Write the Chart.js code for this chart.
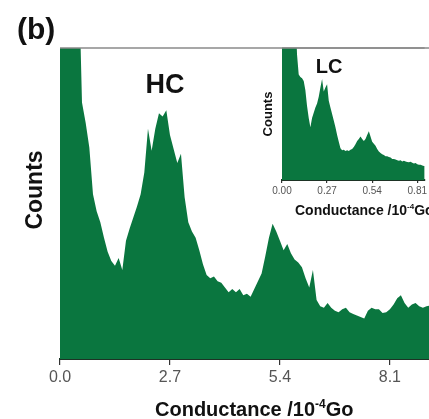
<!DOCTYPE html>
<html>
<head>
<meta charset="utf-8">
<script src="https://cdn.jsdelivr.net/npm/chart.js@4.4.1/dist/chart.umd.min.js"></script>
<style>
  html, body { margin: 0; padding: 0; background: #fff; }
  #wrap { position: relative; width: 429px; height: 419px; overflow: hidden; }
  #mainChart { position: absolute; left: 0; top: 0; }
  #insetChart { position: absolute; left: 255px; top: 40px; }
</style>
</head>
<body>
<div id="wrap">
  <canvas id="mainChart" width="429" height="419"></canvas>
  <canvas id="insetChart" width="174" height="190"></canvas>
</div>
<script>
// histogram bins (conductance in 10^-4 Go), counts in arbitrary units
const mainBinWidth = 0.09;
const mainCounts = [
  130, 130, 130, 130, 130, 130, 82.5, 76, 68, 53,
  47.5, 44, 39, 34.5, 31.5, 30, 32.5, 28.6, 38, 42,
  45.5, 49, 53, 60, 74, 67, 74, 79, 78, 80,
  72, 67.5, 63, 66, 52, 44, 41, 39, 35, 30.5,
  27, 26, 26.5, 25, 24.5, 23, 21.5, 22.5, 21.5, 22.5,
  20.5, 21, 20, 22.5, 25, 27.5, 33, 39, 43.5, 41,
  38, 35, 37, 34, 32, 31, 29.5, 26, 23, 28.6,
  19, 17, 16.5, 18, 16.5, 15.5, 15, 16, 16.5, 15,
  14.5, 14, 13.5, 13, 15.5, 16.5, 16, 16, 14.8, 15,
  16, 17.5, 19.5, 20.5, 18, 16.5, 17.5, 18, 17, 16.5,
  17, 17.2
];
const mainTicks = [0, 2.7, 5.4, 8.1];

// low conductance region (inset)
const insetBinWidth = 0.01;
const insetCounts = [
  130, 130, 130, 130, 130, 130, 130, 130, 130, 95,
  80, 78, 77, 75, 68, 56, 47, 40, 47, 51,
  55, 58, 63, 70, 76.5, 67, 70, 72.5, 60, 55,
  50, 45, 40, 34, 29, 24, 22.5, 23, 22, 22.5,
  22, 23, 23.5, 25, 27, 29.5, 31, 33, 31, 29.5,
  31, 34, 37, 33, 29, 27.5, 26, 23.5, 21.5, 20.5,
  19.5, 19, 18, 18, 17.4, 17, 16, 16, 15.5, 15,
  14.6, 15, 14, 14.5, 14, 13.6, 13.5, 13.8, 13, 12.5,
  12.8, 12, 11.5, 11.5, 11, 10.6, 10.5
];
const insetTicks = [0, 0.27, 0.54, 0.81];

const green = '#0a763f';
const fontFamily = '"Liberation Sans", Arial, sans-serif';

function toPoints(counts, width) {
  return counts.map((c, i) => ({ x: i * width, y: c }));
}

// draws "Conductance /10^-4 Go" with a small raised exponent
function drawConductanceTitle(ctx, x, y, size) {
  const supSize = Math.round(size * 0.6);
  const parts = [
    { text: 'Conductance /10', size: size, rise: 0 },
    { text: '-4', size: supSize, rise: size * 0.42 },
    { text: 'Go', size: size, rise: 0 },
  ];
  ctx.textAlign = 'left';
  ctx.textBaseline = 'alphabetic';
  let cx = x;
  parts.forEach(p => {
    ctx.font = `bold ${p.size}px ${fontFamily}`;
    ctx.fillText(p.text, cx, y - p.rise);
    cx += ctx.measureText(p.text).width;
  });
}

function drawRotated(ctx, text, x, y, font) {
  ctx.save();
  ctx.translate(x, y);
  ctx.rotate(-Math.PI / 2);
  ctx.font = font;
  ctx.textAlign = 'center';
  ctx.textBaseline = 'alphabetic';
  ctx.fillText(text, 0, 0);
  ctx.restore();
}

function topLine(chart) {
  const { ctx, chartArea } = chart;
  ctx.save();
  ctx.strokeStyle = '#8a8a8a';
  ctx.lineWidth = 1.5;
  ctx.beginPath();
  ctx.moveTo(chartArea.left, chartArea.top);
  ctx.lineTo(chartArea.right, chartArea.top);
  ctx.stroke();
  ctx.restore();
}

const mainLabels = {
  id: 'mainLabels',
  afterDraw(chart) {
    const ctx = chart.ctx;
    topLine(chart);
    ctx.save();
    ctx.fillStyle = '#111';
    ctx.textBaseline = 'alphabetic';
    ctx.font = `bold 30px ${fontFamily}`;
    ctx.textAlign = 'left';
    ctx.fillText('(b)', 17, 39);
    ctx.font = `bold 27px ${fontFamily}`;
    ctx.textAlign = 'center';
    ctx.fillText('HC', 165, 93);
    drawRotated(ctx, 'Counts', 42, 190, `bold 23px ${fontFamily}`);
    drawConductanceTitle(ctx, 155, 416, 20);
    ctx.restore();
  }
};

const insetLabels = {
  id: 'insetLabels',
  afterDraw(chart) {
    const ctx = chart.ctx;
    topLine(chart);
    ctx.save();
    ctx.fillStyle = '#111';
    ctx.font = `bold 20px ${fontFamily}`;
    ctx.textAlign = 'center';
    ctx.textBaseline = 'alphabetic';
    ctx.fillText('LC', 74, 33);
    drawRotated(ctx, 'Counts', 17, 74, `bold 13px ${fontFamily}`);
    drawConductanceTitle(ctx, 40, 175, 14);
    ctx.restore();
  }
};

function histogramChart(canvas, counts, binWidth, ticks, opts) {
  return new Chart(canvas, {
    type: 'line',
    data: {
      datasets: [{
        data: toPoints(counts, binWidth),
        fill: 'origin',
        backgroundColor: green,
        borderColor: green,
        borderWidth: 0,
        pointRadius: 0,
        tension: 0,
      }],
    },
    options: {
      responsive: false,
      animation: false,
      devicePixelRatio: 1,
      layout: { padding: opts.padding },
      plugins: { legend: { display: false }, tooltip: { enabled: false } },
      scales: {
        x: {
          type: 'linear',
          min: 0,
          max: opts.xMax,
          afterBuildTicks: (scale) => { scale.ticks = ticks.map(v => ({ value: v })); },
          afterFit: (scale) => { scale.height = opts.axisHeight; },
          grid: {
            display: true,
            drawOnChartArea: false,
            drawTicks: true,
            tickLength: opts.tickLength,
            color: '#333',
            lineWidth: 1.2,
          },
          border: { display: true, color: '#1d3325', width: 2 },
          ticks: {
            autoSkip: false,
            maxRotation: 0,
            padding: opts.tickPadding,
            color: '#555',
            font: { family: fontFamily, size: opts.tickSize },
            callback: (v) => Number(v).toFixed(opts.decimals),
          },
        },
        y: {
          display: false,
          min: 0,
          max: 100,
        },
      },
    },
    plugins: [opts.labels],
  });
}

histogramChart(document.getElementById('mainChart'), mainCounts, mainBinWidth, mainTicks, {
  padding: { left: 60, top: 48, right: 0, bottom: 0 },
  xMax: 9.06,
  axisHeight: 60,
  tickLength: 6,
  tickPadding: 3,
  tickSize: 16,
  decimals: 1,
  labels: mainLabels,
});

histogramChart(document.getElementById('insetChart'), insetCounts, insetBinWidth, insetTicks, {
  padding: { left: 27, top: 8, right: 0, bottom: 0 },
  xMax: 0.854,
  axisHeight: 50,
  tickLength: 3,
  tickPadding: 2,
  tickSize: 10,
  decimals: 2,
  labels: insetLabels,
});
</script>
</body>
</html>
